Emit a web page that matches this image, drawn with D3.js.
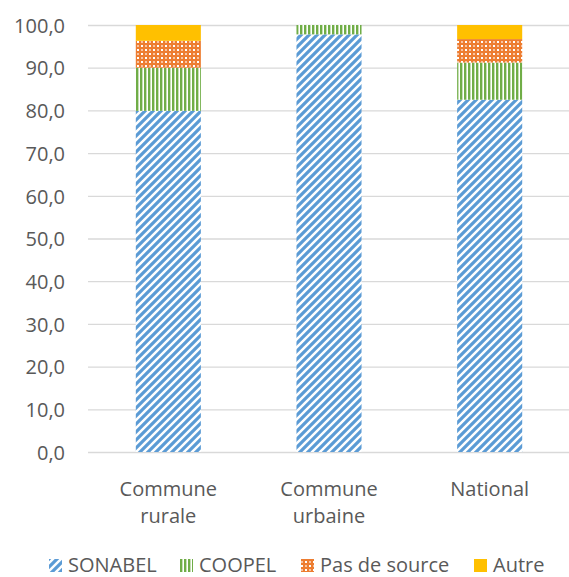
<!DOCTYPE html>
<html><head><meta charset="utf-8">
<script src="https://cdn.jsdelivr.net/npm/d3@7"></script>
<style>body{margin:0;background:#fff;} text{font-family:"Open Sans",sans-serif;}</style>
</head><body><svg id="c" width="569" height="577"></svg>
<script>
// Zones and energy sources (percent of households)
const categories = [["Commune", "rurale"], ["Commune", "urbaine"], ["National"]];
const seriesNames = ["SONABEL", "COOPEL", "Pas de source", "Autre"];
const sonabel = [79.9, 97.8, 82.5];
const coopel = [10.1, 2.2, 8.7];
const pasDeSource = [6.3, 0.0, 5.5];
const autre = [3.7, 0.0, 3.3];
const yTicks = [0, 10, 20, 30, 40, 50, 60, 70, 80, 90, 100];

const svg = d3.select("#c");
const plotLeft = 88, plotRight = 570;
const x = d3.scaleBand().domain(d3.range(categories.length)).range([plotLeft, plotRight]).paddingInner(0.595).paddingOuter(0.2975);
const y = d3.scaleLinear().domain([0, 100]).range([452, 25]);

// Fill patterns
const defs = svg.append("defs");
const pDiag = defs.append("pattern").attr("id", "pSonabel").attr("patternUnits", "userSpaceOnUse").attr("width", 8).attr("height", 8);
pDiag.append("rect").attr("width", 8).attr("height", 8).attr("fill", "#fff");
pDiag.append("path").attr("d", "M-2,2 L2,-2 M0,8 L8,0 M6,10 L10,6").attr("stroke", "#5B9BD5").attr("stroke-width", 3.2);

const pVert = defs.append("pattern").attr("id", "pCoopel").attr("patternUnits", "userSpaceOnUse").attr("width", 4).attr("height", 4);
pVert.append("rect").attr("width", 4).attr("height", 4).attr("fill", "#fff");
pVert.append("rect").attr("x", 0).attr("width", 2.4).attr("height", 4).attr("fill", "#70AD47");

const pGrid = defs.append("pattern").attr("id", "pPas").attr("patternUnits", "userSpaceOnUse").attr("width", 8).attr("height", 8);
pGrid.append("rect").attr("width", 8).attr("height", 8).attr("fill", "#ED7D31");
pGrid.append("rect").attr("x", 1).attr("y", 1).attr("width", 2).attr("height", 2).attr("fill", "#fff");
pGrid.append("rect").attr("x", 5).attr("y", 5).attr("width", 2).attr("height", 2).attr("fill", "#fff");
pGrid.append("rect").attr("x", 5).attr("y", 1).attr("width", 2).attr("height", 2).attr("fill", "#F8C3A0");
pGrid.append("rect").attr("x", 1).attr("y", 5).attr("width", 2).attr("height", 2).attr("fill", "#F8C3A0");

const fills = ["url(#pSonabel)", "url(#pCoopel)", "url(#pPas)", "#FFC000"];

// Gridlines and y axis
const yAxis = d3.axisLeft(y).tickValues(yTicks).tickSize(-(569 - plotLeft)).tickFormat(d => d3.format(".1f")(d).replace(".", ","));
const gy = svg.append("g").attr("transform", `translate(${plotLeft},0)`).call(yAxis);
gy.select(".domain").remove();
gy.selectAll(".tick line").attr("stroke", "#D9D9D9").attr("stroke-width", 1.3);
gy.selectAll(".tick text").attr("x", -23).attr("fill", "#595959").attr("font-size", 20).attr("dy", "0.36em");

// Stacked bars
const rows = categories.map((c, i) => ({i, SONABEL: sonabel[i], COOPEL: coopel[i], "Pas de source": pasDeSource[i], Autre: autre[i]}));
const stack = d3.stack().keys(seriesNames)(rows);
stack.forEach((s, k) => {
  svg.append("g").selectAll("rect").data(s.filter(d => d[1] - d[0] > 0)).join("rect")
    .attr("x", d => x(d.data.i))
    .attr("width", x.bandwidth())
    .attr("y", d => y(d[1]))
    .attr("height", d => y(d[0]) - y(d[1]))
    .attr("fill", fills[k]);
});

// Category labels
const gx = svg.append("g");
categories.forEach((lines, i) => {
  const t = gx.append("text").attr("text-anchor", "middle").attr("fill", "#595959").attr("font-size", 20);
  lines.forEach((ln, j) => t.append("tspan").attr("x", x(i) + x.bandwidth() / 2).attr("y", 496 + j * 26.5).text(ln));
});

// Legend
const legendX = [49, 180, 301, 474];
const lg = svg.append("g");
seriesNames.forEach((n, k) => {
  lg.append("rect").attr("x", legendX[k]).attr("y", 559).attr("width", 13).attr("height", 13).attr("fill", fills[k]);
  lg.append("text").attr("x", legendX[k] + 19).attr("y", 572).attr("fill", "#595959").attr("font-size", 20).text(n);
});
</script></body></html>
